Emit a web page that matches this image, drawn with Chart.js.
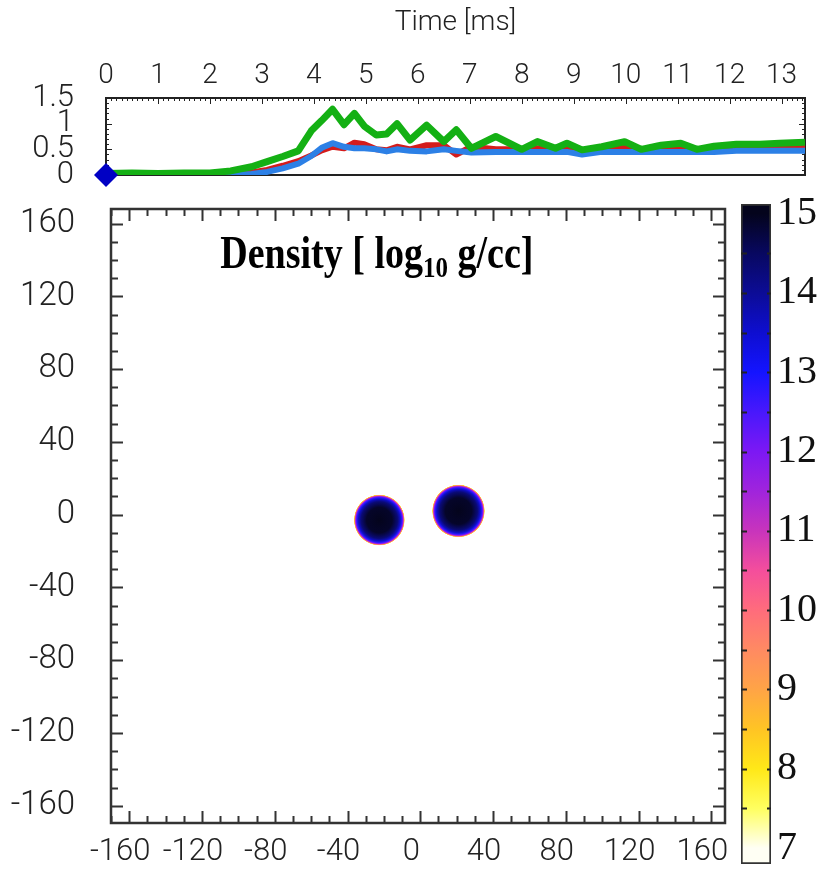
<!DOCTYPE html>
<html>
<head>
<meta charset="utf-8">
<title>Density</title>
<script src="https://cdn.jsdelivr.net/npm/chart.js@4/dist/chart.umd.min.js"></script>
<style>
  html, body { margin: 0; padding: 0; background: #fff; }
  #wrap { position: relative; width: 817px; height: 881px; overflow: hidden; }
  #wrap canvas { position: absolute; }
</style>
</head>
<body>
<div id="wrap">
  <canvas id="time-chart" width="817" height="195" style="left:0;top:0;"></canvas>
  <canvas id="density-chart" width="745" height="686" style="left:0;top:195px;"></canvas>
  <canvas id="cbar-chart" width="82" height="686" style="left:735px;top:195px;"></canvas>
</div>
<script>
// --- top panel: time series ---
const timeMs = [0, 0.5, 1.0, 1.5, 2.0, 2.4, 2.8, 3.1, 3.4, 3.7, 3.95, 4.15, 4.36, 4.58, 4.78, 4.97,
  5.2, 5.4, 5.6, 5.85, 6.17, 6.5, 6.74, 7.03, 7.5, 8.0, 8.3, 8.65, 8.87, 9.16, 9.54, 9.98,
  10.3, 10.68, 11.06, 11.37, 11.7, 12.13, 12.58, 12.96, 13.45];
const greenLine = [0.03, 0.04, 0.03, 0.04, 0.04, 0.08, 0.16, 0.26, 0.36, 0.47, 0.86, 1.06, 1.28, 0.98, 1.2, 0.95,
  0.78, 0.8, 1.0, 0.68, 0.97, 0.65, 0.88, 0.52, 0.75, 0.5, 0.65, 0.52, 0.62, 0.49, 0.55, 0.65,
  0.5, 0.58, 0.62, 0.5, 0.56, 0.6, 0.6, 0.62, 0.64];
const blueLine = [0.01, 0.01, 0.01, 0.01, 0.01, 0.01, 0.02, 0.06, 0.13, 0.22, 0.37, 0.53, 0.62, 0.55, 0.52, 0.52,
  0.5, 0.46, 0.5, 0.47, 0.46, 0.5, 0.47, 0.44, 0.45, 0.45, 0.45, 0.45, 0.45, 0.4, 0.45, 0.45,
  0.45, 0.45, 0.45, 0.45, 0.45, 0.47, 0.47, 0.47, 0.47];
const redLine = [0.01, 0.01, 0.01, 0.01, 0.01, 0.02, 0.05, 0.1, 0.18, 0.27, 0.38, 0.48, 0.55, 0.52, 0.63, 0.6,
  0.5, 0.48, 0.55, 0.5, 0.58, 0.58, 0.4, 0.55, 0.5, 0.5, 0.52, 0.5, 0.53, 0.48, 0.5, 0.55,
  0.5, 0.52, 0.55, 0.5, 0.52, 0.55, 0.55, 0.55, 0.55];
const timeTicks = [0, 1, 2, 3, 4, 5, 6, 7, 8, 9, 10, 11, 12, 13];
const valueTicks = [0, 0.5, 1, 1.5];

// --- density map ---
const posTicks = [-160, -120, -80, -40, 0, 40, 80, 120, 160];
const starX = [-22.5, 21];
const starY = [-3, 2];
const starR = [14, 14.5];
// radial density profile of a star, radius as a fraction of starR
const profileR = [0, 0.5, 0.72, 0.82, 0.88, 0.92, 0.945, 0.965, 0.985, 1.0];
const profileRho = [15, 14.9, 14.3, 13.6, 12.8, 12, 11, 9.8, 8.3, 7];

// --- colour bar ---
const cbarTicks = [7, 8, 9, 10, 11, 12, 13, 14, 15];
const cbarRange = [6.8, 15.12];
const cbarLevels = [7, 7.5, 8, 8.5, 9, 9.5, 10, 10.5, 11, 11.5, 12, 12.5, 13, 13.5, 14, 14.5, 15];
const cbarColors = ['#fffff4', '#ffff60', '#ffe818', '#ffc424', '#ffa446', '#ff8a62', '#ff6c7c', '#f44e9c',
  '#c834bc', '#a024dc', '#7c18f4', '#4818fc', '#1414ff', '#0e0ed0', '#0c0c96', '#080860', '#04041c'];

Chart.defaults.font.family = 'Roboto, "Liberation Sans", sans-serif';
Chart.defaults.color = '#222';

function hexRgb(h) {
  const n = parseInt(h.slice(1), 16);
  return [(n >> 16) & 255, (n >> 8) & 255, n & 255];
}
const cbarRgb = cbarColors.map(hexRgb);

function rhoColor(v) {
  const last = cbarLevels.length - 1;
  if (v <= cbarLevels[0]) return cbarColors[0];
  if (v >= cbarLevels[last]) return cbarColors[last];
  let i = 0;
  while (cbarLevels[i + 1] < v) i++;
  const f = (v - cbarLevels[i]) / (cbarLevels[i + 1] - cbarLevels[i]);
  const a = cbarRgb[i], b = cbarRgb[i + 1];
  return 'rgb(' + a.map((c, k) => Math.round(c + (b[k] - c) * f)).join(',') + ')';
}

function fixedTicks(values) {
  return s => { s.ticks = values.map(v => ({ value: v })); };
}

// box around the plot area with inward tick marks
function framePlugin(spec) {
  const hook = spec.under ? 'beforeDatasetsDraw' : 'afterDatasetsDraw';
  return {
    id: 'frame',
    [hook](chart) {
      const { ctx, chartArea: a, scales } = chart;
      ctx.save();
      ctx.strokeStyle = spec.color;
      ctx.lineWidth = spec.tickWidth;
      ctx.beginPath();
      spec.edges.forEach(e => {
        const sc = scales[e.axis];
        const n = Math.round((e.to - e.from) / e.step);
        for (let i = 0; i <= n; i++) {
          const v = e.from + i * e.step;
          const r = v / e.major;
          const len = Math.abs(r - Math.round(r)) < 1e-6 ? e.majorLen : e.minorLen;
          const p = Math.round(sc.getPixelForValue(v)) + 0.5;
          if (e.side === 'top') { ctx.moveTo(p, a.top); ctx.lineTo(p, a.top + len); }
          if (e.side === 'bottom') { ctx.moveTo(p, a.bottom); ctx.lineTo(p, a.bottom - len); }
          if (e.side === 'left') { ctx.moveTo(a.left, p); ctx.lineTo(a.left + len, p); }
          if (e.side === 'right') { ctx.moveTo(a.right, p); ctx.lineTo(a.right - len, p); }
        }
      });
      ctx.stroke();
      ctx.lineWidth = spec.width;
      ctx.strokeRect(a.left, a.top, a.right - a.left, a.bottom - a.top);
      ctx.restore();
    }
  };
}

// ---------- time series ----------
const pts = arr => timeMs.map((t, i) => ({ x: t, y: arr[i] }));
const lineStyle = { pointRadius: 0, fill: false, tension: 0, borderJoinStyle: 'round' };

new Chart(document.getElementById('time-chart'), {
  type: 'line',
  data: {
    datasets: [
      { data: [{ x: 0, y: 0 }], showLine: false, pointStyle: 'rectRot', pointRadius: 12,
        backgroundColor: '#0000c4', borderWidth: 0, clip: false },
      { data: pts(greenLine), borderColor: '#14b014', borderWidth: 7, ...lineStyle },
      { data: pts(blueLine), borderColor: '#2c80e6', borderWidth: 6, ...lineStyle },
      { data: pts(redLine), borderColor: '#d41c1c', borderWidth: 6, ...lineStyle }
    ]
  },
  options: {
    responsive: false,
    animation: false,
    events: [],
    layout: { padding: { left: 0, right: 5, top: 0, bottom: 20 } },
    plugins: { legend: { display: false }, tooltip: { enabled: false } },
    scales: {
      x: {
        type: 'linear', position: 'top', min: 0, max: 13.45,
        grid: { display: false, drawTicks: false }, border: { display: false },
        afterBuildTicks: fixedTicks(timeTicks),
        afterFit: s => { s.height = 98; s.paddingLeft = 0; s.paddingRight = 0; },
        ticks: { font: { size: 28, weight: '300' }, padding: 5, maxRotation: 0, autoSkip: false },
        title: { display: true, text: 'Time [ms]', font: { size: 28, weight: '300' }, padding: { top: 6, bottom: 0 } }
      },
      y: {
        type: 'linear', min: 0, max: 1.5,
        grid: { display: false, drawTicks: false }, border: { display: false },
        afterBuildTicks: fixedTicks(valueTicks),
        afterFit: s => { s.width = 106; s.paddingTop = 0; s.paddingBottom = 0; },
        ticks: { font: { size: 31, weight: '300' }, padding: 32, autoSkip: false, callback: v => String(v) }
      }
    }
  },
  plugins: [framePlugin({
    under: true, color: '#222', width: 2, tickWidth: 1,
    edges: [
      { side: 'top', axis: 'x', from: 0, to: 13.4, step: 0.1, major: 1, minorLen: 3, majorLen: 6 },
      { side: 'left', axis: 'y', from: 0, to: 1.5, step: 0.1, major: 0.5, minorLen: 3, majorLen: 6 },
      { side: 'right', axis: 'y', from: 0, to: 1.5, step: 0.1, major: 0.5, minorLen: 3, majorLen: 6 }
    ]
  })]
});

// ---------- density map ----------
function starPixels(ctx) {
  const { chart, raw } = ctx;
  const xs = chart.scales && chart.scales.x, ys = chart.scales && chart.scales.y;
  if (!raw || !xs || !ys) return null;
  const cx = xs.getPixelForValue(raw.x);
  const cy = ys.getPixelForValue(raw.y);
  const rad = Math.abs(xs.getPixelForValue(raw.r) - xs.getPixelForValue(0));
  if (![cx, cy, rad].every(Number.isFinite) || rad <= 0) return null;
  return { cx, cy, rad };
}

const titlePlugin = {
  id: 'densityTitle',
  afterDraw(chart) {
    const { ctx, chartArea: a } = chart;
    const parts = [
      { t: 'Density [ log', size: 38, dy: 0 },
      { t: '10', size: 25, dy: 7 },
      { t: ' g/cc]', size: 38, dy: 0 }
    ];
    ctx.save();
    ctx.fillStyle = '#000';
    ctx.textBaseline = 'alphabetic';
    let total = 0;
    parts.forEach(p => {
      ctx.font = 'bold ' + p.size + 'px "Liberation Serif", serif';
      p.w = ctx.measureText(p.t).width;
      total += p.w;
    });
    const cx = a.left + (a.right - a.left) * 0.433;
    ctx.translate(cx - total / 2, a.top + 59);
    ctx.scale(1, 1.22);
    let x = 0;
    parts.forEach(p => {
      ctx.font = 'bold ' + p.size + 'px "Liberation Serif", serif';
      ctx.fillText(p.t, x, p.dy);
      x += p.w;
    });
    ctx.restore();
  }
};

new Chart(document.getElementById('density-chart'), {
  type: 'scatter',
  data: {
    datasets: [{
      data: starX.map((x, i) => ({ x, y: starY[i], r: starR[i] })),
      borderWidth: 0,
      pointRadius: ctx => { const s = starPixels(ctx); return s ? s.rad : 0; },
      backgroundColor: ctx => {
        const s = starPixels(ctx);
        if (!s) return cbarColors[0];
        const g = ctx.chart.ctx.createRadialGradient(s.cx, s.cy, 0, s.cx, s.cy, s.rad);
        profileR.forEach((f, i) => g.addColorStop(f, rhoColor(profileRho[i])));
        return g;
      }
    }]
  },
  options: {
    responsive: false,
    animation: false,
    events: [],
    layout: { padding: { left: 0, right: 20, top: 14, bottom: 0 } },
    plugins: { legend: { display: false }, tooltip: { enabled: false } },
    scales: {
      x: {
        type: 'linear', min: -170, max: 167.5,
        grid: { display: false, drawTicks: false }, border: { display: false },
        afterBuildTicks: fixedTicks(posTicks),
        afterFit: s => { s.height = 58; s.paddingLeft = 0; s.paddingRight = 0; },
        ticks: { font: { size: 31, weight: '300' }, padding: 11, labelOffset: -9, maxRotation: 0, autoSkip: false }
      },
      y: {
        type: 'linear', min: -169.5, max: 168,
        grid: { display: false, drawTicks: false }, border: { display: false },
        afterBuildTicks: fixedTicks(posTicks),
        afterFit: s => { s.width = 111; s.paddingTop = 0; s.paddingBottom = 0; },
        ticks: { font: { size: 33, weight: '300' }, padding: 36, autoSkip: false }
      }
    }
  },
  plugins: [titlePlugin, framePlugin({
    color: '#333', width: 2.5, tickWidth: 2,
    edges: [
      { side: 'top', axis: 'x', from: -170, to: 160, step: 10, major: 40, minorLen: 7, majorLen: 12 },
      { side: 'bottom', axis: 'x', from: -170, to: 160, step: 10, major: 40, minorLen: 7, majorLen: 12 },
      { side: 'left', axis: 'y', from: -160, to: 160, step: 10, major: 40, minorLen: 7, majorLen: 12 },
      { side: 'right', axis: 'y', from: -160, to: 160, step: 10, major: 40, minorLen: 7, majorLen: 12 }
    ]
  })]
});

// ---------- colour bar ----------
const cbarMarks = {
  id: 'cbarMarks',
  afterDatasetsDraw(chart) {
    const { ctx, chartArea: a, scales } = chart;
    ctx.save();
    ctx.strokeStyle = '#222';
    ctx.lineWidth = 2;
    ctx.beginPath();
    for (let v = 7.5; v < 15; v += 0.5) {
      const p = Math.round(scales.y.getPixelForValue(v)) + 0.5;
      ctx.moveTo(a.left, p); ctx.lineTo(a.left + 6, p);
      ctx.moveTo(a.right, p); ctx.lineTo(a.right - 4, p);
    }
    ctx.stroke();
    ctx.restore();
  }
};

new Chart(document.getElementById('cbar-chart'), {
  type: 'bar',
  data: {
    labels: ['rho'],
    datasets: [{
      data: [cbarRange],
      barPercentage: 1,
      categoryPercentage: 1,
      borderColor: '#333',
      borderWidth: 2,
      borderSkipped: false,
      backgroundColor: ctx => {
        const ys = ctx.chart.scales && ctx.chart.scales.y;
        if (!ys) return cbarColors[0];
        const lo = cbarLevels[0], hi = cbarLevels[cbarLevels.length - 1];
        const y0 = ys.getPixelForValue(lo), y1 = ys.getPixelForValue(hi);
        if (!Number.isFinite(y0) || !Number.isFinite(y1)) return cbarColors[0];
        const g = ctx.chart.ctx.createLinearGradient(0, y0, 0, y1);
        cbarLevels.forEach((v, i) => g.addColorStop((v - lo) / (hi - lo), cbarColors[i]));
        return g;
      }
    }]
  },
  options: {
    responsive: false,
    animation: false,
    events: [],
    layout: { padding: { left: 6, right: 0, top: 9, bottom: 17 } },
    plugins: { legend: { display: false }, tooltip: { enabled: false } },
    scales: {
      x: { display: false },
      y: {
        position: 'right', min: cbarRange[0], max: cbarRange[1],
        grid: { display: false, drawTicks: false }, border: { display: false },
        afterBuildTicks: fixedTicks(cbarTicks),
        afterFit: s => { s.width = 46; s.paddingTop = 0; s.paddingBottom = 0; },
        ticks: { font: { family: '"Liberation Serif", serif', size: 40 }, color: '#111', padding: 6, autoSkip: false }
      }
    }
  },
  plugins: [cbarMarks]
});
</script>
</body>
</html>
